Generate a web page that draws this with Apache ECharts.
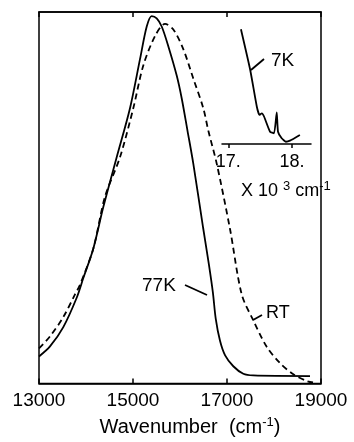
<!DOCTYPE html>
<html>
<head>
<meta charset="utf-8">
<script src="https://cdn.jsdelivr.net/npm/echarts@6/dist/echarts.min.js"></script>
<style>
html,body{margin:0;padding:0;background:#fff;}
#chart{width:354px;height:442px;}
</style>
</head>
<body>
<div id="chart"></div>
<script>
// Main spectra (wavenumber in cm^-1, relative intensity)
const wn77 = [13000, 13234, 13517, 13802, 13943, 14155, 14368, 14653, 14936, 15149, 15292, 15398, 15504, 15611, 15751, 15930, 16036, 16159, 16283, 16496, 16617, 16700, 16760, 16850, 16960, 17134, 17347, 17560, 18766];
const val77 = [7.3, 10.0, 15.2, 23.1, 28.4, 36.3, 47.5, 60.9, 74.1, 87.3, 96.1, 98.9, 98.3, 96.1, 90.8, 82.9, 76.8, 68.1, 59.2, 41.6, 31.9, 24.5, 17.5, 11.6, 7.6, 4.67, 2.64, 2.19, 2.03];
const wnRT = [13000, 13234, 13517, 13766, 13872, 14155, 14404, 14723, 15006, 15219, 15468, 15681, 15858, 16070, 16283, 16496, 16602, 16781, 17064, 17313, 17560, 17845, 18128, 18411, 18696, 18830];
const valRT = [9.5, 12.7, 17.9, 24.0, 26.6, 36.3, 50.3, 60.9, 74.1, 85.6, 93.5, 96.8, 95.3, 90.0, 82.1, 74.1, 68.1, 59.2, 41.6, 24.0, 17.0, 9.9, 5.5, 2.5, 0.7, 0.3];
// Inset 7K spectrum (x 10^3 cm^-1)
const wn7K = [17.198, 17.344, 17.448, 17.489, 17.527, 17.563, 17.656, 17.719, 17.761, 17.781, 17.839, 17.906, 17.969, 18.125];
const val7K = [96.4, 62.2, 31.3, 24.4, 25.8, 22.9, 10.3, 9.0, 26.5, 10.3, 4.8, 1.9, 2.8, 7.6];
const mainTicks = [13000, 15000, 17000, 19000];
const insetTicks = [17, 18];

const FONT = 'Liberation Sans';
const zip = (a, b) => a.map((x, i) => [x, b[i]]);

const chart = echarts.init(document.getElementById('chart'), null, {renderer: 'canvas'});
chart.setOption({
  animation: false,
  backgroundColor: '#fff',
  grid: [
    {left: 39, right: 33, top: 12, bottom: 51, show: true, borderColor: '#000', borderWidth: 1.5, backgroundColor: 'transparent'},
    {left: 222, right: 43, top: 25, bottom: 298}
  ],
  xAxis: [
    {
      type: 'value', gridIndex: 0, min: 13000, max: 19000, interval: 2000,
      axisLine: {show: true, lineStyle: {color: '#000', width: 1.5}},
      axisTick: {show: true, inside: true, length: 5, lineStyle: {color: '#000', width: 1.5}},
      axisLabel: {color: '#000', fontFamily: FONT, fontSize: 19, margin: 8,
        customValues: mainTicks, formatter: v => String(v)},
      splitLine: {show: false},
      name: '{a|Wavenumber  (cm}{s|-1}{a|)}',
      nameLocation: 'middle', nameGap: 27,
      nameTextStyle: {
        padding: [0, 0, 0, 20],
        rich: {
          a: {fontFamily: FONT, fontSize: 20, color: '#000', lineHeight: 23},
          s: {fontFamily: FONT, fontSize: 13, color: '#000', verticalAlign: 'top'}
        }
      }
    },
    {
      type: 'value', gridIndex: 0, position: 'top', min: 13000, max: 19000, interval: 2000,
      axisLine: {show: true, lineStyle: {color: '#000', width: 1.5}},
      axisTick: {show: true, inside: true, length: 5, lineStyle: {color: '#000', width: 1.5}},
      axisLabel: {show: false},
      splitLine: {show: false}
    },
    {
      type: 'value', gridIndex: 1, min: 16.9, max: 18.3,
      axisLine: {show: true, lineStyle: {color: '#000', width: 1.5}},
      axisTick: {show: true, inside: false, length: 4, customValues: insetTicks, lineStyle: {color: '#000', width: 1.5}},
      axisLabel: {color: '#000', fontFamily: FONT, fontSize: 18, margin: 9,
        customValues: insetTicks, formatter: v => v + '.'},
      splitLine: {show: false}
    }
  ],
  yAxis: [
    {type: 'value', gridIndex: 0, min: 0, max: 100, show: false},
    {type: 'value', gridIndex: 1, min: 0, max: 100, show: false}
  ],
  series: [
    {
      name: '77K', type: 'line', xAxisIndex: 0, yAxisIndex: 0,
      data: zip(wn77, val77), smooth: 0.3, showSymbol: false,
      lineStyle: {color: '#000', width: 1.8}
    },
    {
      name: 'RT', type: 'line', xAxisIndex: 0, yAxisIndex: 0,
      data: zip(wnRT, valRT), smooth: 0.3, showSymbol: false,
      lineStyle: {color: '#000', width: 1.8, type: [6, 4]}
    },
    {
      name: '7K', type: 'line', xAxisIndex: 2, yAxisIndex: 1,
      data: zip(wn7K, val7K), smooth: 0.15, showSymbol: false,
      lineStyle: {color: '#000', width: 1.8}
    }
  ],
  graphic: [
    {type: 'text', left: 142, top: 276, style: {text: '77K', fontFamily: FONT, fontSize: 19, fill: '#000'}},
    {type: 'line', shape: {x1: 185, y1: 285, x2: 207, y2: 295}, style: {stroke: '#000', lineWidth: 1.8}},
    {type: 'text', left: 266, top: 304, style: {text: 'RT', fontFamily: FONT, fontSize: 18, fill: '#000'}},
    {type: 'line', shape: {x1: 253, y1: 320, x2: 262, y2: 315}, style: {stroke: '#000', lineWidth: 1.8}},
    {type: 'text', left: 271, top: 51, style: {text: '7K', fontFamily: FONT, fontSize: 19, fill: '#000'}},
    {type: 'line', shape: {x1: 251, y1: 70, x2: 264, y2: 59}, style: {stroke: '#000', lineWidth: 1.8}},
    {type: 'text', left: 241, top: 180, style: {
      text: '{a|X 10 }{s|3}{a| cm}{s|-1}',
      rich: {
        a: {fontFamily: FONT, fontSize: 18, fill: '#000', lineHeight: 22},
        s: {fontFamily: FONT, fontSize: 13, fill: '#000', verticalAlign: 'top'}
      }
    }}
  ]
});
</script>
</body>
</html>
